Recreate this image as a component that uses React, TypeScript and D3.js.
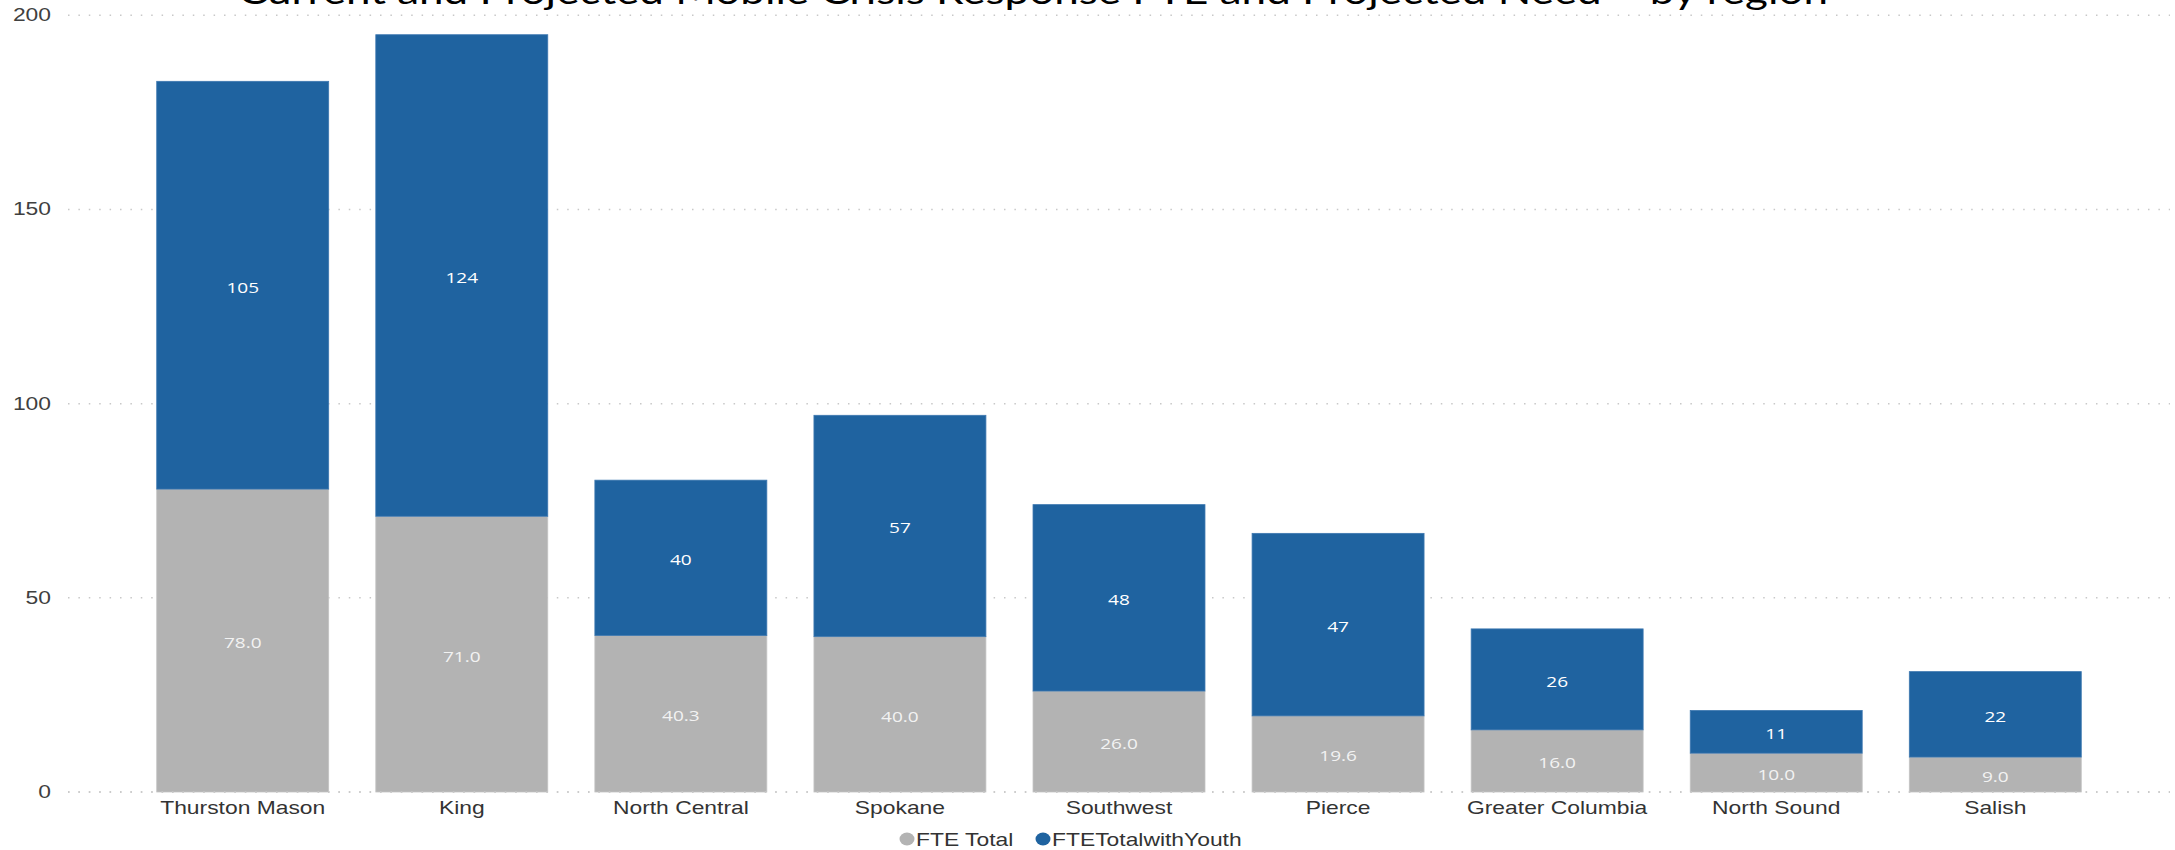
import React from "react";
import * as d3 from "d3";

const regions = ["Thurston Mason", "King", "North Central", "Spokane", "Southwest", "Pierce", "Greater Columbia", "North Sound", "Salish"];
const fteTotal = [78.0, 71.0, 40.3, 40.0, 26.0, 19.6, 16.0, 10.0, 9.0];
const fteYouth = [105, 124, 40, 57, 48, 47, 26, 11, 22];
const fteTotalLabels = ["78.0", "71.0", "40.3", "40.0", "26.0", "19.6", "16.0", "10.0", "9.0"];
const fteYouthLabels = ["105", "124", "40", "57", "48", "47", "26", "11", "22"];
const yTicks = [0, 50, 100, 150, 200];
const seriesNames = ["FTE Total", "FTETotalwithYouth"];
const seriesColors = ["#B3B3B3", "#1F63A0"];
const title = "Current and Projected Mobile Crisis Response FTE and Projected Need \u2013 by region";

const W = 2175;
const H = 850;
const SX = 1.27;

export default function App() {
  const x = d3.scaleBand<string>().domain(regions).range([68, 2170]).paddingInner(0.215).paddingOuter(0.405);
  const y = d3.scaleLinear().domain([0, 200]).range([792, 15.3]);

  const stacked = regions.map((r, i) => ({
    r,
    segs: [
      { y0: 0, y1: fteTotal[i], color: seriesColors[0], label: fteTotalLabels[i], lc: "#F2F2F2" },
      { y0: fteTotal[i], y1: fteTotal[i] + fteYouth[i], color: seriesColors[1], label: fteYouthLabels[i], lc: "#FFFFFF" },
    ],
  }));

  const font = "'Liberation Sans', Arial, sans-serif";
  const gridEnd = 2170;

  return (
    <svg width={W} height={H} style={{ position: "absolute", left: 0, top: 0, background: "#fff" }}>
      <rect x={0} y={0} width={W} height={H} fill="#fff" />
      {yTicks.map((t) => (
        <line key={"g" + t} x1={68} x2={gridEnd} y1={y(t)} y2={y(t)} stroke="#C8C8C8" strokeWidth={1.5} strokeDasharray="1.5,8.9" />
      ))}
      {yTicks.map((t) => (
        <text key={"yt" + t} transform={`translate(51,${y(t) + 6}) scale(${SX},1)`} textAnchor="end" fontFamily={font} fontSize={18} fill="#404040">
          {t}
        </text>
      ))}
      {stacked.map((d) =>
        d.segs.map((s, j) => (
          <rect key={d.r + j} x={x(d.r)} y={y(s.y1)} width={x.bandwidth()} height={y(s.y0) - y(s.y1)} fill={s.color} stroke={j === 0 ? "#C4C4C4" : "#3E78B0"} strokeWidth={0.8} />
        ))
      )}
      <line x1={68} x2={gridEnd} y1={y(0)} y2={y(0)} stroke="#C8C8C8" strokeWidth={1.5} strokeDasharray="1.5,8.9" />
      {stacked.map((d) =>
        d.segs.map((s, j) => (
          <text key={"l" + d.r + j} transform={`translate(${(x(d.r) as number) + x.bandwidth() / 2},${(y(s.y0) + y(s.y1)) / 2 + 7.5}) scale(${SX},1)`} textAnchor="middle" fontFamily="'Open Sans', 'Noto Sans', sans-serif" fontSize={15} fill={s.lc}>
            {s.label}
          </text>
        ))
      )}
      {regions.map((r) => (
        <text key={"x" + r} transform={`translate(${(x(r) as number) + x.bandwidth() / 2},814) scale(${SX},1)`} textAnchor="middle" fontFamily={font} fontSize={18} fill="#333333">
          {r}
        </text>
      ))}
      <ellipse cx={907} cy={839} rx={7.5} ry={6.5} fill={seriesColors[0]} />
      <text transform={`translate(916,845.5) scale(${SX},1)`} fontFamily={font} fontSize={18} fill="#333333">{seriesNames[0]}</text>
      <ellipse cx={1043} cy={839} rx={7.5} ry={6.5} fill={seriesColors[1]} />
      <text transform={`translate(1052,845.5) scale(${SX},1)`} fontFamily={font} fontSize={18} fill="#333333">{seriesNames[1]}</text>
      <text x={238} y={4} textLength={1590} lengthAdjust="spacingAndGlyphs" fontFamily="Lato, 'Open Sans', sans-serif" fontSize={35} fill="#000">
        {title}
      </text>
    </svg>
  );
}
